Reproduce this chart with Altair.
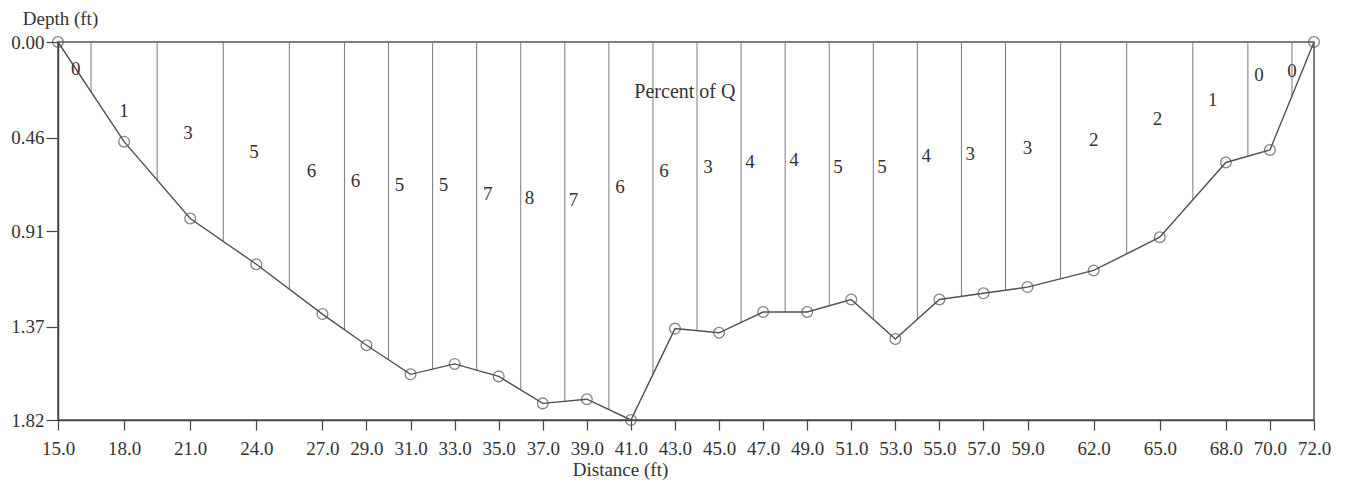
import altair as alt
import numpy as np
import pandas as pd

# Stream cross-section: station distance (ft) and measured depth (ft)
stations = [15.0, 18.0, 21.0, 24.0, 27.0, 29.0, 31.0, 33.0, 35.0, 37.0, 39.0, 41.0, 43.0,
            45.0, 47.0, 49.0, 51.0, 53.0, 55.0, 57.0, 59.0, 62.0, 65.0, 68.0, 70.0, 72.0]
depths = [0.00, 0.48, 0.85, 1.07, 1.31, 1.46, 1.60, 1.55, 1.61, 1.74, 1.72, 1.82, 1.38,
          1.40, 1.30, 1.30, 1.24, 1.43, 1.24, 1.21, 1.18, 1.10, 0.94, 0.58, 0.52, 0.00]

# Percent of total discharge carried by each subsection, and where each figure sits
percent_q = [0, 1, 3, 5, 6, 6, 5, 5, 7, 8, 7, 6, 6, 3, 4, 4, 5, 5, 4, 3, 3, 2, 2, 1, 0, 0]
label_dist = [15.8, 18.0, 20.9, 23.9, 26.5, 28.5, 30.5, 32.5, 34.5, 36.4, 38.4, 40.5, 42.5,
              44.5, 46.4, 48.4, 50.4, 52.4, 54.4, 56.4, 59.0, 62.0, 64.9, 67.4, 69.5, 71.0]
label_depth = [0.13, 0.33, 0.44, 0.53, 0.62, 0.67, 0.69, 0.69, 0.73, 0.75, 0.76, 0.70, 0.62,
               0.60, 0.58, 0.57, 0.60, 0.60, 0.55, 0.54, 0.51, 0.47, 0.37, 0.28, 0.16, 0.14]

depth_ticks = [0.00, 0.46, 0.91, 1.37, 1.82]

FONT = "Liberation Serif"
INK = "#333333"
SIZE = 19

bed = pd.DataFrame({"dist": stations, "depth": depths})

# Subsection boundaries lie halfway between stations; each runs from the
# water surface down to the bed profile.
st = np.array(stations)
mids = (st[:-1] + st[1:]) / 2.0
bounds = pd.DataFrame({
    "dist": mids,
    "top": 0.0,
    "bottom": np.interp(mids, st, np.array(depths)),
})

labels = pd.DataFrame({"dist": label_dist, "depth": label_depth, "pct": percent_q})
note = pd.DataFrame({"dist": [43.45], "depth": [0.24], "txt": ["Percent of Q"]})

x_scale = alt.Scale(domain=[15, 72], nice=False, zero=False)
y_scale = alt.Scale(domain=[0, 1.82], reverse=True, nice=False, zero=False)

x_axis = alt.Axis(
    values=stations, format=".1f", title="Distance (ft)",
    tickSize=10, labelPadding=9, labelFlush=False, labelOverlap=False,
    titleX=562, titleY=49, titleBaseline="middle", titleAlign="center",
    grid=False,
)
y_axis = alt.Axis(
    values=depth_ticks, format=".2f", title="Depth (ft)",
    tickSize=12, labelPadding=2, labelFlush=False, labelOverlap=False,
    titleAngle=0, titleX=2, titleY=-24, titleAlign="center", titleBaseline="middle",
    grid=False,
)

rules = alt.Chart(bounds).mark_rule(color="#7a7a7a", strokeWidth=1).encode(
    x=alt.X("dist:Q", scale=x_scale, axis=x_axis),
    y=alt.Y("top:Q", scale=y_scale, axis=y_axis),
    y2="bottom:Q",
)

line = alt.Chart(bed).mark_line(color="#505050", strokeWidth=1.4).encode(
    x="dist:Q", y="depth:Q"
)

pts = alt.Chart(bed).mark_point(
    shape="circle", filled=False, size=115, color="#505050", strokeWidth=1.3
).encode(x="dist:Q", y="depth:Q")

pct_text = alt.Chart(labels).mark_text(
    font=FONT, fontSize=SIZE, color=INK, align="center", baseline="middle"
).encode(x="dist:Q", y="depth:Q", text="pct:N")

note_text = alt.Chart(note).mark_text(
    font=FONT, fontSize=20, color=INK, align="center", baseline="middle"
).encode(x="dist:Q", y="depth:Q", text="txt:N")

chart = (
    alt.layer(rules, line, pts, pct_text, note_text)
    .properties(
        width=1256, height=378,
        autosize=alt.AutoSizeParams(type="none"),
        padding={"left": 58, "top": 42, "right": 37, "bottom": 67},
        background="white",
    )
    .configure_view(stroke="#555555", strokeWidth=1.5)
    .configure_axis(
        domainColor="#444444", domainWidth=1.5, tickColor="#444444", tickWidth=1.2,
        labelFont=FONT, labelFontSize=SIZE, labelColor=INK,
        titleFont=FONT, titleFontSize=SIZE, titleFontWeight="normal", titleColor=INK,
    )
)

chart.save("out.html", embed_options={"renderer": "svg", "actions": False})
